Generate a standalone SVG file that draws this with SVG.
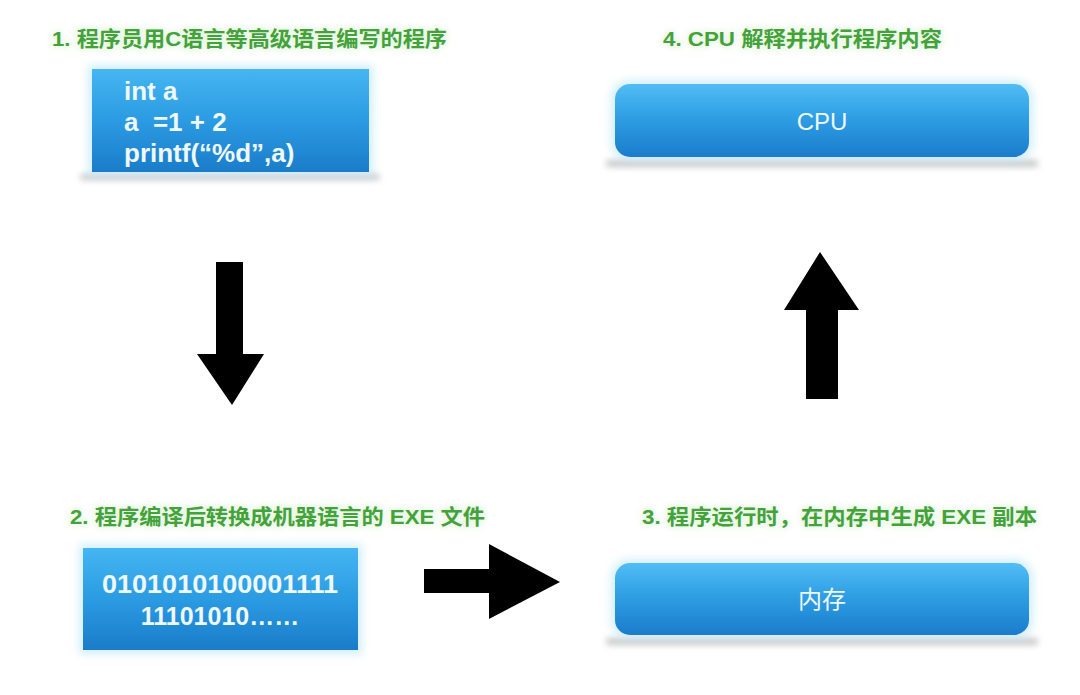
<svg xmlns="http://www.w3.org/2000/svg" width="1080" height="695" viewBox="0 0 1080 695">
<defs>
<linearGradient id="gBox" x1="0" y1="0" x2="0" y2="1">
<stop offset="0" stop-color="#45b6f2"/>
<stop offset="0.5" stop-color="#2b9be2"/>
<stop offset="1" stop-color="#1a7cc9"/>
</linearGradient>
<linearGradient id="gPill" x1="0" y1="0" x2="0" y2="1">
<stop offset="0" stop-color="#52bdf5"/>
<stop offset="0.45" stop-color="#2f9fe4"/>
<stop offset="1" stop-color="#1a7ccb"/>
</linearGradient>
<filter id="shadow" x="-10%" y="-100%" width="120%" height="300%">
<feGaussianBlur stdDeviation="3"/>
</filter>
<filter id="glow" x="-10%" y="-20%" width="120%" height="140%">
<feGaussianBlur stdDeviation="4"/>
</filter>
<filter id="tglow" x="-5%" y="-30%" width="110%" height="160%">
<feGaussianBlur stdDeviation="3"/>
</filter>
</defs>
<style>
.title{font-family:"Liberation Sans","Noto Sans CJK SC",sans-serif;font-weight:bold;font-size:21px;fill:#43a23a}
.tglow{font-family:"Liberation Sans","Noto Sans CJK SC",sans-serif;font-weight:bold;font-size:21px;fill:#e2f5dc;stroke:#eaf8e6;stroke-width:4}
.code{font-family:"Liberation Sans","Noto Sans CJK SC",sans-serif;font-weight:bold;font-size:26px;fill:#eef8ff;white-space:pre}
.bin{font-family:"Liberation Sans","Noto Sans CJK SC",sans-serif;font-weight:bold;font-size:25px;fill:#eef8ff}
.lbl{font-family:"Liberation Sans","Noto Sans CJK SC",sans-serif;font-size:24px;fill:#eef8ff}
.shd{fill:#9a9a9a;opacity:0.55}
.halo{fill:#bfe8fb;opacity:0.7}
.arrow{fill:#000000}
</style>
<rect width="1080" height="695" fill="#ffffff"/>

<g id="title1">
<text class="tglow" x="52" y="46" textLength="395" lengthAdjust="spacingAndGlyphs" filter="url(#tglow)">1. 程序员用C语言等高级语言编写的程序</text>
<text class="title" x="52" y="46" textLength="395" lengthAdjust="spacingAndGlyphs">1. 程序员用C语言等高级语言编写的程序</text>
</g>
<g id="title4">
<text class="tglow" x="663" y="46" textLength="279" lengthAdjust="spacingAndGlyphs" filter="url(#tglow)">4. CPU 解释并执行程序内容</text>
<text class="title" x="663" y="46" textLength="279" lengthAdjust="spacingAndGlyphs">4. CPU 解释并执行程序内容</text>
</g>
<g id="title2">
<text class="tglow" x="70" y="524" textLength="415" lengthAdjust="spacingAndGlyphs" filter="url(#tglow)">2. 程序编译后转换成机器语言的 EXE 文件</text>
<text class="title" x="70" y="524" textLength="415" lengthAdjust="spacingAndGlyphs">2. 程序编译后转换成机器语言的 EXE 文件</text>
</g>
<g id="title3">
<text class="tglow" x="642" y="524" textLength="395" lengthAdjust="spacingAndGlyphs" filter="url(#tglow)">3. 程序运行时，在内存中生成 EXE 副本</text>
<text class="title" x="642" y="524" textLength="395" lengthAdjust="spacingAndGlyphs">3. 程序运行时，在内存中生成 EXE 副本</text>
</g>

<g id="source-code">
<rect class="shd" x="80" y="174" width="300" height="6" rx="3" filter="url(#shadow)"/>
<rect class="halo" x="88" y="65" width="285" height="111" filter="url(#glow)"/>
<rect x="92" y="69" width="277" height="103" fill="url(#gBox)"/>
<text class="code" x="124" y="100">int a</text>
<text class="code" x="124" y="131">a  =1 + 2</text>
<text class="code" x="124" y="162">printf(“%d”,a)</text>
</g>

<g id="exe-file">
<rect class="halo" x="79" y="544" width="283" height="110" filter="url(#glow)"/>
<rect x="83" y="548" width="275" height="102" fill="url(#gBox)"/>
<text class="bin" x="220" y="593" text-anchor="middle" textLength="236" lengthAdjust="spacingAndGlyphs">0101010100001111</text>
<text class="bin" x="220" y="625" text-anchor="middle">11101010……</text>
</g>

<g id="cpu">
<rect class="shd" x="606" y="160" width="432" height="7" rx="3" filter="url(#shadow)"/>
<rect class="halo" x="611" y="80" width="422" height="81" rx="18" filter="url(#glow)"/>
<rect x="615" y="84" width="414" height="73" rx="15" fill="url(#gPill)"/>
<text class="lbl" x="822" y="130" text-anchor="middle">CPU</text>
</g>

<g id="memory">
<rect class="shd" x="606" y="638" width="432" height="7" rx="3" filter="url(#shadow)"/>
<rect class="halo" x="611" y="559" width="422" height="80" rx="18" filter="url(#glow)"/>
<rect x="615" y="563" width="414" height="72" rx="15" fill="url(#gPill)"/>
<text class="lbl" x="822" y="608" text-anchor="middle">内存</text>
</g>

<g id="connectors">
<polygon class="arrow" points="216,262 243,262 243,354 264,354 232,405 197,354 216,354"/>
<polygon class="arrow" points="424,569 489,569 489,544 560,582 489,619 489,593 424,593"/>
<polygon class="arrow" points="806,399 838,399 838,310 859,310 820,252 784,310 806,310"/>
</g>
</svg>
